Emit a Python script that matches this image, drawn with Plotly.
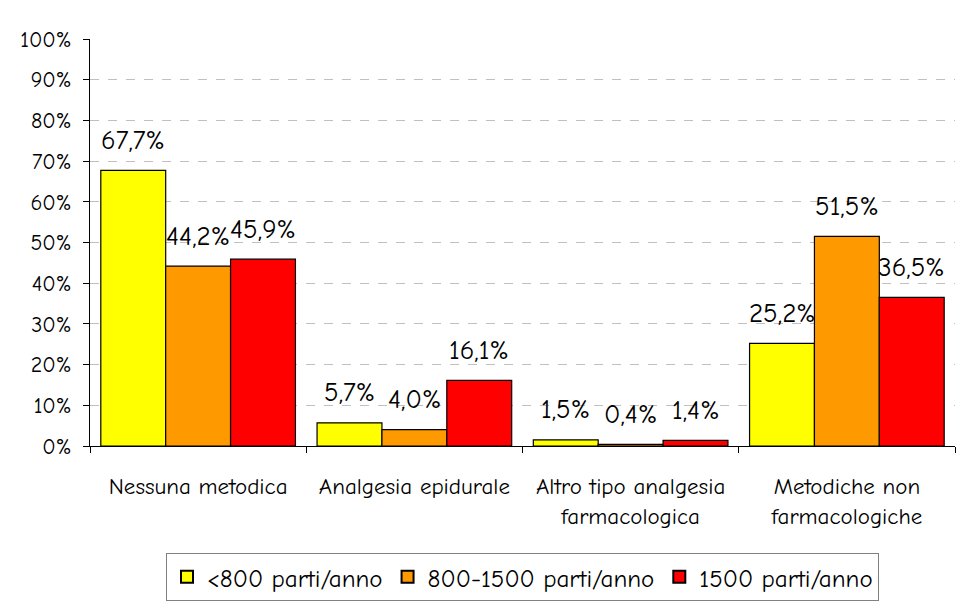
import plotly.graph_objects as go

categories = ["Nessuna metodica", "Analgesia epidurale", "Altro tipo analgesia<br>farmacologica", "Metodiche non<br>farmacologiche"]
series_names = ["<800 parti/anno", "800-1500 parti/anno", "1500 parti/anno"]
values_lt800 = [67.7, 5.7, 1.5, 25.2]
values_800_1500 = [44.2, 4.0, 0.4, 51.5]
values_1500 = [45.9, 16.1, 1.4, 36.5]
colors = ["#FFFF00", "#FF9900", "#FF0000"]
y_ticks = [0, 10, 20, 30, 40, 50, 60, 70, 80, 90, 100]

all_series = [values_lt800, values_800_1500, values_1500]
FONT = "Comic Sans MS, Comic Neue, DejaVu Sans, sans-serif"

fig = go.Figure()
for name, vals, col in zip(series_names, all_series, colors):
    fig.add_trace(go.Bar(
        x=categories, y=vals, name=name,
        marker=dict(color=col, line=dict(color="black", width=1.2)),
    ))

bargap = 0.1
bw = (1 - bargap) / 3
annotations = []
for j, vals in enumerate(all_series):
    for i, v in enumerate(vals):
        annotations.append(dict(
            x=i + (j - 1) * bw, y=v, xref="x", yref="y",
            text=f"{v:.1f}%".replace(".", ","),
            showarrow=False, yshift=30, font=dict(size=27, color="black", family=FONT),
        ))

fig.update_layout(
    barmode="group", bargap=bargap, bargroupgap=0,
    width=970, height=604,
    margin=dict(l=90, r=15, t=39, b=158, autoexpand=False),
    paper_bgcolor="white", plot_bgcolor="white",
    font=dict(family=FONT, size=20, color="black"),
    showlegend=True,
    legend=dict(orientation="h", x=0.5, xanchor="center",
                yref="container", y=1 - 553 / 604, yanchor="top",
                bordercolor="#808080", borderwidth=1, font=dict(size=25),
                itemsizing="constant", traceorder="normal"),
    annotations=annotations,
)
fig.update_xaxes(
    showline=True, linecolor="black", linewidth=1,
    ticks="outside", ticklen=6, tickcolor="black", tickson="boundaries",
    ticklabelstandoff=19, showgrid=False, tickfont=dict(size=23), automargin=False,
)
fig.update_yaxes(
    range=[0, 100], tickvals=y_ticks, ticktext=[f"{t}%" for t in y_ticks],
    showline=True, linecolor="black", linewidth=1,
    ticks="outside", ticklen=6, tickcolor="black", tickfont=dict(size=22),
    ticklabelstandoff=7, automargin=False,
    showgrid=True, gridcolor="#C0C0C0", griddash="dash", gridwidth=1,
    zeroline=False,
)
fig.write_html("out.html", config={"displayModeBar": False},
               post_script="document.body.style.margin='0px';")
